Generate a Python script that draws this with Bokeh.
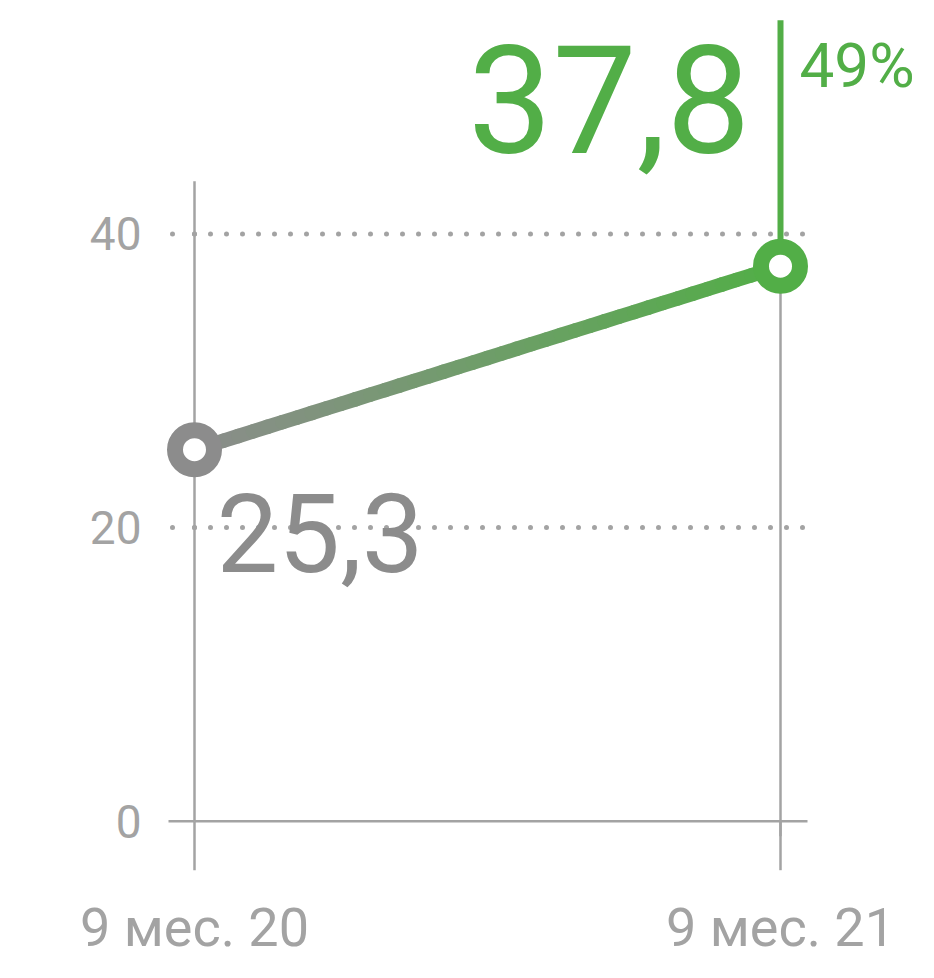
import math
from bokeh.plotting import figure
from bokeh.models import ColumnDataSource, Range1d
from bokeh.core.properties import value
from bokeh.embed import file_html
from bokeh.resources import INLINE

# ---- data ----
categories = ["9 мес. 20", "9 мес. 21"]
values = [25.3, 37.8]
value_labels = ["25,3", "37,8"]
change_label = "49%"
y_ticks = [0, 20, 40]
y_tick_labels = ["0", "20", "40"]

# ---- styles ----
GRAY = "#8c8c8c"
LIGHT = "#a3a3a3"
GREEN = "#52ae47"
FONT = value("Roboto")

W, H = 918, 962
xs = list(range(len(categories)))

p = figure(width=W, height=H, output_backend="svg", toolbar_location=None,
           x_axis_type=None, y_axis_type=None, min_border=0,
           x_range=Range1d(-0.33106, 1.23549), y_range=Range1d(-9.623, 55.895))
p.outline_line_color = None
p.grid.visible = False
p.background_fill_color = "white"
p.border_fill_color = "white"

# dotted horizontal gridlines
grid_y = [t for t in y_ticks if t != 0]
p.ray(x=[xs[0]] * len(grid_y), y=grid_y, length=616, length_units="screen", angle=0,
      line_color=LIGHT, line_width=5, line_dash="0 16", line_cap="round")
p.ray(x=[xs[0]] * len(grid_y), y=grid_y, length=27, length_units="screen", angle=math.pi,
      line_color=LIGHT, line_width=5, line_dash="0 22", line_cap="round")

# baseline at 0
p.ray(x=[xs[0]], y=[0], length=613, length_units="screen", angle=0, line_color=LIGHT, line_width=2.5)
p.ray(x=[xs[0]], y=[0], length=26, length_units="screen", angle=math.pi, line_color=LIGHT, line_width=2.5)

# vertical category lines
p.ray(x=[xs[0]], y=[0], length=640, length_units="screen", angle=math.pi / 2, line_color=LIGHT, line_width=2.5)
p.ray(x=xs, y=[0, 0], length=49, length_units="screen", angle=-math.pi / 2, line_color=LIGHT, line_width=2.5)
p.ray(x=[xs[1]], y=[values[1]], length=570, length_units="screen", angle=-math.pi / 2, line_color=LIGHT, line_width=2.5)

# green marker stem upward
p.ray(x=[xs[1]], y=[values[1]], length=246, length_units="screen", angle=math.pi / 2, line_color=GREEN, line_width=6)


# gradient line between the two points (style: color blend along the segment)
def hex2rgb(h):
    h = h.lstrip("#")
    return tuple(int(h[i:i + 2], 16) for i in (0, 2, 4))


c0, c1 = hex2rgb(GRAY), hex2rgb(GREEN)
N = 40
seg = dict(x0=[], y0=[], x1=[], y1=[], color=[])
for i in range(N):
    t0, t1 = i / N, (i + 1) / N
    tm = (t0 + t1) / 2
    seg["x0"].append(xs[0] + (xs[1] - xs[0]) * t0)
    seg["x1"].append(xs[0] + (xs[1] - xs[0]) * t1)
    seg["y0"].append(values[0] + (values[1] - values[0]) * t0)
    seg["y1"].append(values[0] + (values[1] - values[0]) * t1)
    rgb = tuple(round(a + (b - a) * tm) for a, b in zip(c0, c1))
    seg["color"].append("#%02x%02x%02x" % rgb)
p.segment(x0="x0", y0="y0", x1="x1", y1="y1", color="color", line_width=14.5,
          line_cap="round", source=ColumnDataSource(seg))

# markers
p.scatter(x=xs, y=values, size=39, fill_color="white", line_color=[GRAY, GREEN], line_width=16)

# y tick labels
p.text(x=[xs[0]] * len(y_ticks), y=y_ticks, text=y_tick_labels, x_offset=-53,
       text_align="right", text_baseline="middle", text_font=FONT,
       text_font_size="46px", text_color=LIGHT)

# category labels
p.text(x=xs, y=[0, 0], text=categories, y_offset=106, text_align="center",
       text_baseline="middle", text_font=FONT, text_font_size="54px", text_color=LIGHT)

# value labels
p.text(x=[xs[0]], y=[values[0]], text=[value_labels[0]], x_offset=22, y_offset=83,
       text_align="left", text_baseline="middle", text_font=FONT,
       text_font_size="110px", text_color=GRAY)
p.text(x=[xs[1]], y=[values[1]], text=[value_labels[1]], x_offset=-30, y_offset=-167,
       text_align="right", text_baseline="middle", text_font=FONT,
       text_font_size="150px", text_color=GREEN)
p.text(x=[xs[1]], y=[values[1]], text=[change_label], x_offset=19, y_offset=-201,
       text_align="left", text_baseline="middle", text_font=FONT,
       text_font_size="62px", text_color=GREEN)

open("out.html", "w").write(file_html(p, INLINE))
